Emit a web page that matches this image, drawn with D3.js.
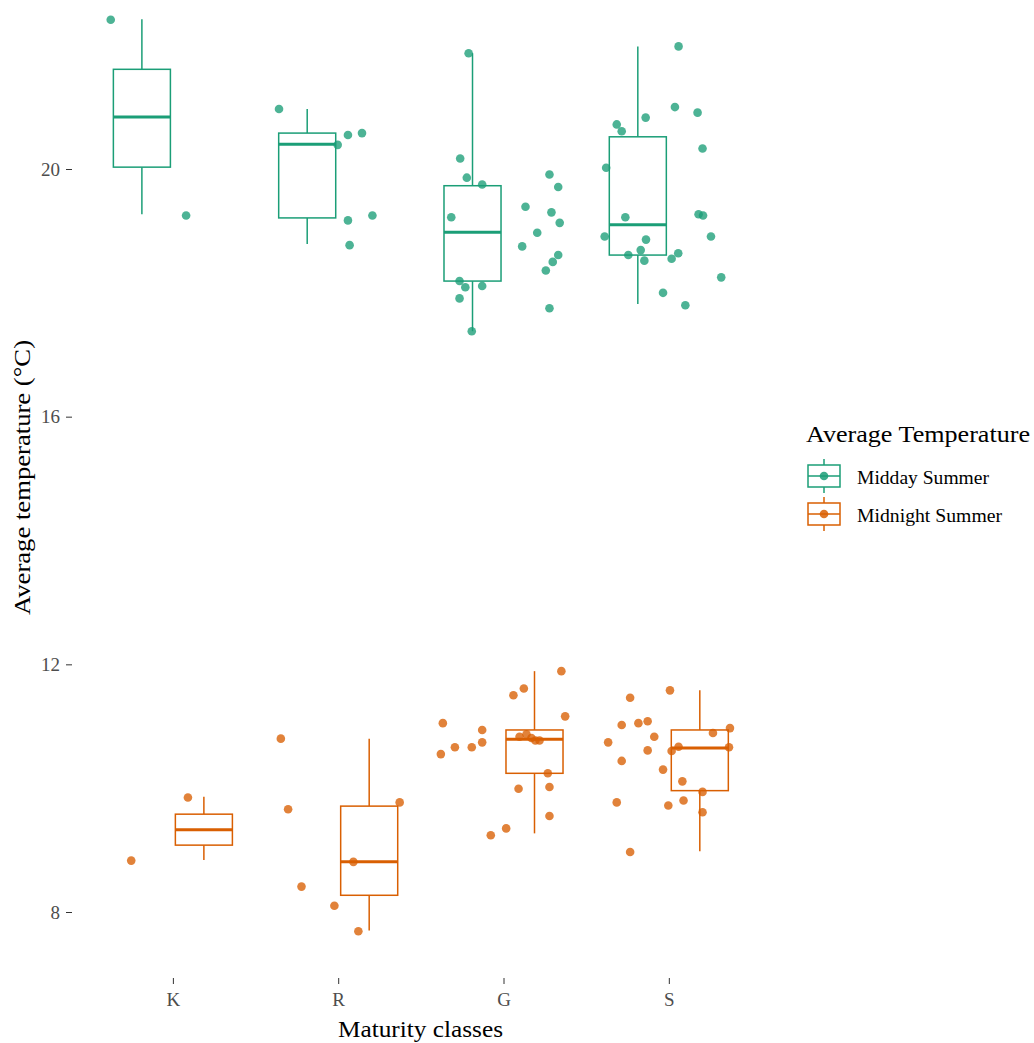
<!DOCTYPE html>
<html>
<head>
<meta charset="utf-8">
<script src="https://cdn.jsdelivr.net/npm/d3@7"></script>
<style>
  html, body { margin: 0; padding: 0; background: #fff; }
  svg { display: block; }
  text { font-family: "Liberation Serif", "Times New Roman", serif; }
</style>
</head>
<body>
<svg id="chart" width="1034" height="1043"></svg>
<script>
// ---------------- DATA ----------------
const categories = ["K", "R", "G", "S"];
const seriesNames = ["Midday Summer", "Midnight Summer"];
const seriesColors = ["#1b9e77", "#d95f02"];
const yTicks = [8, 12, 16, 20];

// box statistics per category: [lower whisker, Q1, median, Q3, upper whisker]
const middayBox = [
  [19.27, 20.03, 20.84, 21.61, 22.42],
  [18.79, 19.21, 20.40, 20.58, 20.97],
  [17.38, 18.19, 18.98, 19.73, 21.87],
  [17.82, 18.61, 19.10, 20.52, 21.98]
];
const midnightBox = [
  [8.84, 9.08, 9.33, 9.58, 9.86],
  [7.70, 8.27, 8.81, 9.71, 10.80],
  [9.27, 10.24, 10.79, 10.94, 11.89],
  [8.98, 9.96, 10.65, 10.94, 11.58]
];

// observed points per category (temperature) and their horizontal jitter (category units)
const middayValues = [
  [22.41, 19.25],
  [20.97, 20.55, 20.58, 20.39, 19.17, 19.25, 18.77],
  [21.87, 20.17, 19.86, 19.75, 19.22, 18.19, 18.09, 18.11, 17.91, 17.38, 19.39, 19.91, 19.71, 19.30, 19.13, 18.97, 18.75, 18.61, 18.50, 18.36, 17.75],
  [21.98, 20.72, 20.61, 20.83, 21.00, 20.91, 20.33, 20.02, 19.22, 19.27, 19.25, 18.91, 18.91, 18.86, 18.69, 18.64, 18.55, 18.61, 18.52, 18.25, 18.00, 17.80]
];
const middayJitter = [
  [-0.376, 0.080],
  [-0.358, 0.059, 0.144, -0.003, 0.059, 0.207, 0.069],
  [-0.211, -0.262, -0.222, -0.129, -0.316, -0.266, -0.231, -0.129, -0.266, -0.192, 0.133, 0.278, 0.331, 0.290, 0.340, 0.204, 0.113, 0.331, 0.298, 0.256, 0.278],
  [0.059, -0.315, -0.285, -0.140, 0.037, 0.174, 0.204, -0.379, -0.263, 0.180, 0.207, -0.388, 0.255, -0.138, -0.170, 0.057, 0.017, -0.245, -0.148, 0.317, -0.035, 0.100]
];
const midnightValues = [
  [9.85, 8.83],
  [10.80, 9.66, 9.77, 8.81, 8.41, 8.10, 7.69],
  [11.89, 11.61, 11.50, 11.16, 11.05, 10.94, 10.74, 10.66, 10.66, 10.55, 10.83, 10.87, 10.81, 10.77, 10.77, 10.24, 10.02, 9.99, 9.55, 9.35, 9.24],
  [11.58, 11.46, 11.02, 11.05, 11.08, 10.97, 10.83, 10.89, 10.74, 10.67, 10.60, 10.66, 10.61, 10.44, 10.30, 10.11, 9.94, 9.77, 9.80, 9.72, 9.61, 8.97]
];
const midnightJitter = [
  [0.091, -0.252],
  [-0.347, -0.303, 0.372, 0.092, -0.222, -0.023, 0.122],
  [0.350, 0.123, 0.060, 0.373, -0.367, -0.129, -0.129, -0.192, -0.294, -0.379, 0.097, 0.139, 0.169, 0.193, 0.218, 0.268, 0.278, 0.091, 0.278, 0.016, -0.077],
  [0.007, -0.234, -0.285, -0.184, -0.128, 0.370, -0.088, 0.267, -0.367, 0.059, 0.017, 0.364, -0.128, -0.285, -0.035, 0.082, 0.204, -0.315, 0.089, -0.003, 0.204, -0.234]
];

// ---------------- LAYOUT ----------------
const svg = d3.select("#chart");
const panel = { left: 73.7, right: 768, top: 0, bottom: 978 };

const x = d3.scalePoint().domain(categories)
  .range([panel.left, panel.right]).padding(0.6);
const step = x.step();
const y = d3.scaleLinear().domain([8, 20]).range([912, 169]);

const dodge = d3.scaleBand().domain(seriesNames).range([-0.375 * step, 0.375 * step]);
const boxW = 0.345 * step;

const tickColor = "#4d4d4d";

// y axis
const yAxis = d3.axisLeft(y).tickValues(yTicks).tickSize(6).tickPadding(6);
const gy = svg.append("g").attr("transform", `translate(${panel.left - 1.7},0)`).call(yAxis);
gy.select(".domain").remove();
gy.selectAll(".tick line").attr("stroke", "#333").attr("stroke-width", 1);
gy.selectAll(".tick text").attr("fill", tickColor).attr("font-size", 19)
  .attr("font-family", "Liberation Serif, serif");

// x axis
const xAxis = d3.axisBottom(x).tickSize(6).tickPadding(9);
const gx = svg.append("g").attr("transform", `translate(0,${panel.bottom})`).call(xAxis);
gx.select(".domain").remove();
gx.selectAll(".tick line").attr("stroke", "#333").attr("stroke-width", 1);
gx.selectAll(".tick text").attr("fill", tickColor).attr("font-size", 19)
  .attr("font-family", "Liberation Serif, serif");

// axis titles
svg.append("text")
  .attr("transform", `translate(30,${(340 + 615) / 2}) rotate(-90)`)
  .attr("text-anchor", "middle").attr("font-size", 24).attr("fill", "#000")
  .attr("textLength", 275).attr("lengthAdjust", "spacingAndGlyphs")
  .text("Average temperature (°C)");
svg.append("text")
  .attr("x", (338 + 503) / 2).attr("y", 1037)
  .attr("text-anchor", "middle").attr("font-size", 24).attr("fill", "#000")
  .attr("textLength", 165).attr("lengthAdjust", "spacingAndGlyphs")
  .text("Maturity classes");

// ---------------- BOXES & POINTS ----------------
const boxSets = [middayBox, midnightBox];
const valueSets = [middayValues, midnightValues];
const jitterSets = [middayJitter, midnightJitter];

seriesNames.forEach((name, si) => {
  const color = seriesColors[si];
  const g = svg.append("g");
  categories.forEach((cat, ci) => {
    const [lo, q1, med, q3, hi] = boxSets[si][ci];
    const cx = x(cat) + dodge(name) + dodge.bandwidth() / 2;
    g.append("line").attr("x1", cx).attr("x2", cx).attr("y1", y(hi)).attr("y2", y(q3))
      .attr("stroke", color).attr("stroke-width", 1.5);
    g.append("line").attr("x1", cx).attr("x2", cx).attr("y1", y(q1)).attr("y2", y(lo))
      .attr("stroke", color).attr("stroke-width", 1.5);
    g.append("rect").attr("x", cx - boxW / 2).attr("width", boxW)
      .attr("y", y(q3)).attr("height", y(q1) - y(q3))
      .attr("fill", "#fff").attr("stroke", color).attr("stroke-width", 1.5);
    g.append("line").attr("x1", cx - boxW / 2).attr("x2", cx + boxW / 2)
      .attr("y1", y(med)).attr("y2", y(med))
      .attr("stroke", color).attr("stroke-width", 3);
  });
});

seriesNames.forEach((name, si) => {
  const color = seriesColors[si];
  const g = svg.append("g");
  categories.forEach((cat, ci) => {
    const vals = valueSets[si][ci];
    const jit = jitterSets[si][ci];
    g.selectAll(null).data(vals).enter().append("circle")
      .attr("cx", (d, i) => x(cat) + jit[i] * step)
      .attr("cy", d => y(d))
      .attr("r", 4.3)
      .attr("fill", color).attr("fill-opacity", 0.78);
  });
});

// ---------------- LEGEND ----------------
const lg = svg.append("g");
lg.append("text").attr("x", 806).attr("y", 442).attr("font-size", 24).attr("fill", "#000")
  .attr("textLength", 224).attr("lengthAdjust", "spacingAndGlyphs")
  .text("Average Temperature");
const legendRows = [476, 514];
const labelLens = [132, 145];
seriesNames.forEach((name, si) => {
  const cy = legendRows[si];
  const color = seriesColors[si];
  const kx = 824;
  lg.append("line").attr("x1", kx).attr("x2", kx).attr("y1", cy - 17).attr("y2", cy + 17)
    .attr("stroke", color).attr("stroke-width", 1.5);
  lg.append("rect").attr("x", kx - 16).attr("y", cy - 11).attr("width", 32).attr("height", 22)
    .attr("fill", "#fff").attr("stroke", color).attr("stroke-width", 1.5);
  lg.append("line").attr("x1", kx - 16).attr("x2", kx + 16).attr("y1", cy).attr("y2", cy)
    .attr("stroke", color).attr("stroke-width", 1.5);
  lg.append("circle").attr("cx", kx).attr("cy", cy).attr("r", 4.3)
    .attr("fill", color).attr("fill-opacity", 0.85);
  lg.append("text").attr("x", 857).attr("y", cy + 8).attr("font-size", 19.5).attr("fill", "#000")
    .attr("textLength", labelLens[si]).attr("lengthAdjust", "spacingAndGlyphs")
    .text(name);
});
</script>
</body>
</html>
